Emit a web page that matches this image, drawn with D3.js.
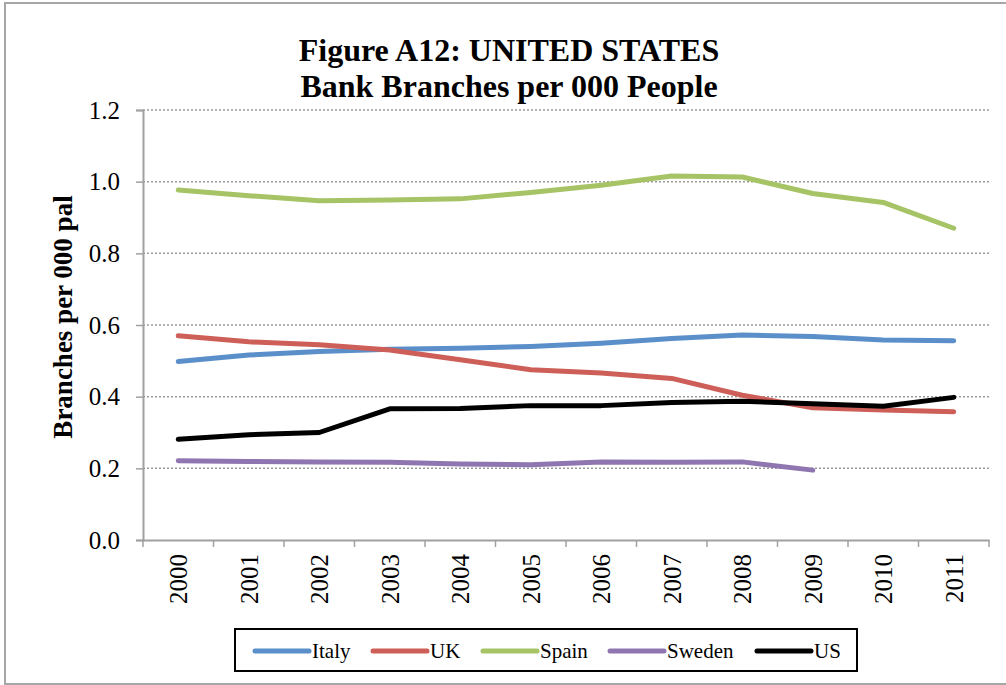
<!DOCTYPE html>
<html>
<head>
<meta charset="utf-8">
<script src="https://cdn.jsdelivr.net/npm/d3@7"></script>
<style>
  body { margin: 0; background: #fff; }
  svg text { font-family: "Liberation Serif", "Times New Roman", Times, serif !important; }
</style>
</head>
<body>
<div id="chart"></div>
<script>
const years = ['2000', '2001', '2002', '2003', '2004', '2005', '2006', '2007', '2008', '2009', '2010', '2011'];
const italy = [0.498, 0.516, 0.526, 0.532, 0.535, 0.540, 0.549, 0.562, 0.572, 0.568, 0.558, 0.556];
const uk = [0.570, 0.553, 0.545, 0.530, 0.503, 0.475, 0.466, 0.451, 0.404, 0.369, 0.363, 0.358];
const spain = [0.977, 0.961, 0.947, 0.949, 0.952, 0.970, 0.990, 1.016, 1.013, 0.967, 0.942, 0.870];
const sweden = [0.221, 0.219, 0.218, 0.217, 0.212, 0.210, 0.218, 0.217, 0.218, 0.195, null, null];
const us = [0.281, 0.294, 0.300, 0.366, 0.367, 0.375, 0.375, 0.384, 0.387, 0.380, 0.373, 0.398];
const yTicks = [0, 0.2, 0.4, 0.6, 0.8, 1.0, 1.2];

const series = [
  { name: 'Italy', values: italy, color: '#5a8fc9' },
  { name: 'UK', values: uk, color: '#cd5f58' },
  { name: 'Spain', values: spain, color: '#a6c366' },
  { name: 'Sweden', values: sweden, color: '#8f76b0' },
  { name: 'US', values: us, color: '#000000' }
];

const width = 1006, height = 685;
const svg = d3.select('#chart').append('svg')
  .attr('width', width)
  .attr('height', height);

// outer frame
svg.append('rect')
  .attr('x', 5).attr('y', 3)
  .attr('width', 1010).attr('height', 681)
  .attr('fill', '#fff')
  .attr('stroke', '#a6a6a6')
  .attr('stroke-width', 2);

// title
svg.append('text')
  .attr('x', 509).attr('y', 61)
  .attr('text-anchor', 'middle')
  .attr('font-size', 32).attr('font-weight', 'bold')
  .text('Figure A12: UNITED STATES');
svg.append('text')
  .attr('x', 509).attr('y', 97)
  .attr('text-anchor', 'middle')
  .attr('font-size', 32).attr('font-weight', 'bold')
  .text('Bank Branches per 000 People');

const x = d3.scaleBand().domain(years).range([143, 989]);
const y = d3.scaleLinear().domain([0, 1.2]).range([540, 110]);

// gridlines
svg.append('g')
  .selectAll('line')
  .data(yTicks.filter(d => d > 0))
  .enter().append('line')
  .attr('x1', 143).attr('x2', 989)
  .attr('y1', d => y(d)).attr('y2', d => y(d))
  .attr('stroke', '#9a9a9a')
  .attr('stroke-width', 1.5)
  .attr('stroke-dasharray', '2,2');

// y axis
const yAxis = svg.append('g')
  .attr('transform', 'translate(143,0)')
  .call(d3.axisLeft(y).tickValues(yTicks).tickFormat(d3.format('.1f')).tickSize(7).tickPadding(16));
yAxis.select('.domain').attr('stroke', '#a0a0a0').attr('stroke-width', 2);
yAxis.selectAll('.tick line').attr('stroke', '#a0a0a0').attr('stroke-width', 1.5);
yAxis.selectAll('.tick text')
  .attr('font-size', 25)
  .attr('fill', '#000');

// x axis
const xAxis = svg.append('g')
  .attr('transform', 'translate(0,540)')
  .call(d3.axisBottom(x).tickSize(0).tickPadding(0));
xAxis.select('.domain').attr('stroke', '#a0a0a0').attr('stroke-width', 2);
xAxis.selectAll('.tick text')
  .attr('font-size', 25)
  .attr('fill', '#000')
  .attr('text-anchor', 'end')
  .attr('transform', 'translate(0,14) rotate(-90)')
  .attr('dx', 0)
  .attr('dy', '0.35em')
  .attr('y', 0);
// category boundary ticks
xAxis.selectAll('.bound')
  .data(years.concat(['end']))
  .enter().append('line')
  .attr('class', 'bound')
  .attr('x1', (d, i) => 143 + i * x.step())
  .attr('x2', (d, i) => 143 + i * x.step())
  .attr('y1', 0).attr('y2', 7)
  .attr('stroke', '#a0a0a0')
  .attr('stroke-width', 1.5);

// y label
svg.append('text')
  .attr('transform', 'translate(72,317) rotate(-90)')
  .attr('text-anchor', 'middle')
  .attr('font-size', 27).attr('font-weight', 'bold')
  .text('Branches per 000 pal');

// lines
const line = d3.line()
  .defined(d => d != null)
  .x((d, i) => x(years[i]) + x.bandwidth() / 2)
  .y(d => y(d));

svg.append('g')
  .selectAll('path')
  .data(series)
  .enter().append('path')
  .attr('d', d => line(d.values))
  .attr('fill', 'none')
  .attr('stroke', d => d.color)
  .attr('stroke-width', 5)
  .attr('stroke-linecap', 'round')
  .attr('stroke-linejoin', 'round');

// legend
const legend = svg.append('g');
legend.append('rect')
  .attr('x', 235).attr('y', 629)
  .attr('width', 622).attr('height', 42)
  .attr('fill', '#fff')
  .attr('stroke', '#000')
  .attr('stroke-width', 2);
const legendX = [255, 373, 483, 610, 757];
const items = legend.selectAll('g.item')
  .data(series)
  .enter().append('g')
  .attr('class', 'item')
  .attr('transform', (d, i) => `translate(${legendX[i]},651)`);
items.append('line')
  .attr('x1', 0).attr('x2', 54)
  .attr('y1', 0).attr('y2', 0)
  .attr('stroke', d => d.color)
  .attr('stroke-width', 5)
  .attr('stroke-linecap', 'round');
items.append('text')
  .attr('x', 57).attr('y', 0)
  .attr('dy', '0.35em')
  .attr('font-size', 21)
  .text(d => d.name);
</script>
</body>
</html>
